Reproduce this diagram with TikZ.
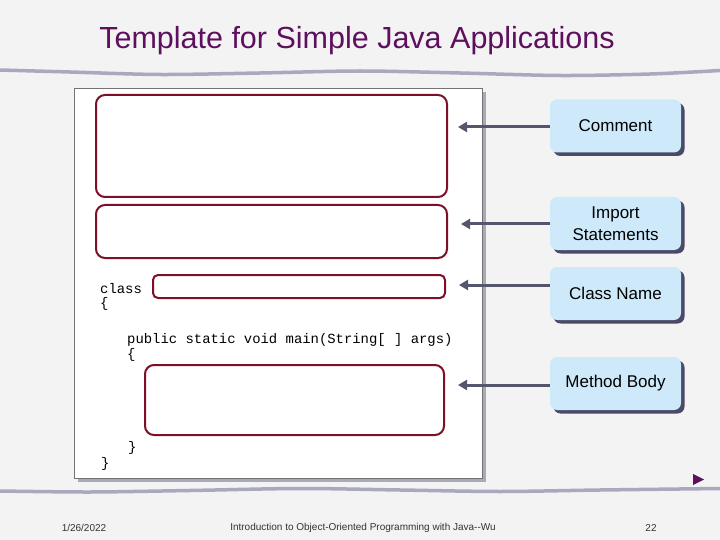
\documentclass[tikz,border=0pt]{standalone}
\usepackage{fontspec}
\setmainfont{Liberation Sans}
\setmonofont{Liberation Mono}
\usetikzlibrary{arrows.meta,shadows}
\definecolor{slidebg}{HTML}{F3F3F3}
\definecolor{titlepurple}{HTML}{5E0F5E}
\definecolor{boxred}{HTML}{7D1028}
\definecolor{notefill}{HTML}{CDE9FA}
\definecolor{noteshadow}{HTML}{4A4A68}
\definecolor{arrowgray}{HTML}{55556E}
\definecolor{wavegray}{HTML}{A8A8BE}
\definecolor{panelshadow}{HTML}{A9A9B8}
\tikzset{
  redbox/.style={draw=boxred, line width=2pt, rounded corners=9pt, inner sep=0pt},
  note/.style={fill=notefill, rounded corners=7pt, align=center, inner sep=0pt,
    minimum width=131pt, minimum height=53pt, font=\fontsize{17}{22}\selectfont,
    drop shadow={shadow xshift=3.5pt, shadow yshift=-3.5pt, fill=noteshadow, opacity=1}},
  pointer/.style={draw=arrowgray, line width=3pt, -{Triangle[length=9pt,width=10pt]}},
  code/.style={font=\fontsize{13.9}{16}\ttfamily, anchor=base west, inner sep=0pt},
  footer/.style={font=\fontsize{10}{12}\selectfont, text=black!80, inner sep=0pt},
}
\begin{document}
\begin{tikzpicture}[x=1pt, y=-1pt]
  \fill[slidebg] (0,0) rectangle (720,540);
  \useasboundingbox (0,0) rectangle (720,540);
  % title and wavy rules
  \node[text=titlepurple, font=\fontsize{30.5}{34}\selectfont] (title) at (357,41)
    {Template for Simple Java Applications};
  \draw[wavegray, line width=3.5pt, line cap=round] plot[smooth] coordinates
    {(0,70) (70,72) (160,74.5) (260,73) (360,71) (460,73) (560,75.5) (650,74) (720,70.5)};
  \draw[wavegray, line width=3.5pt, line cap=round] plot[smooth] coordinates
    {(0,491) (90,492) (190,490.5) (300,488.5) (400,490) (500,491.5) (600,490) (720,488.5)};
  % code panel
  \node[draw=black!55, fill=white, line width=0.8pt, minimum width=408pt, minimum height=390pt,
    drop shadow={shadow xshift=4pt, shadow yshift=-4pt, fill=panelshadow, opacity=1}]
    (panel) at (278,283) {};
  \node[redbox, minimum width=351pt, minimum height=102pt] (cbox) at (271.5,146) {};
  \node[redbox, minimum width=351pt, minimum height=53pt] (ibox) at (271.5,231.5) {};
  \node[redbox, rounded corners=5pt, minimum width=292pt, minimum height=23pt] (nbox) at (299,286.5) {};
  \node[redbox, minimum width=299pt, minimum height=70pt] (mbox) at (294.5,400) {};
  \node[code] (kw) at (100,293) {class};
  \node[code] (open1) at (100,307) {\{};
  \node[code] (main) at (127,343) {public static void main(String[ ] args)};
  \node[code] (open2) at (127,358) {\{};
  \node[code] (close2) at (128,451) {\}};
  \node[code] (close1) at (101,467) {\}};
  % callouts
  \node[note] (comment) at (615.5,126) {Comment};
  \node[note] (import) at (615.5,223.5) {Import\\Statements};
  \node[note] (classname) at (615.5,293.5) {Class Name};
  \node[note] (method) at (615.5,383.5) {Method Body};
  \coordinate (tip1) at (458,127);
  \coordinate (tip2) at (461,224);
  \coordinate (tip3) at (459,285);
  \coordinate (tip4) at (458,385);
  \draw[pointer] (comment.west |- tip1) -- (tip1);
  \draw[pointer] (import.west |- tip2) -- (tip2);
  \draw[pointer] (classname.west |- tip3) -- (tip3);
  \draw[pointer] (method.west |- tip4) -- (tip4);
  % footer
  \fill[titlepurple] (693,474) -- (704,479.5) -- (693,485) -- cycle;
  \node[footer] (date) at (84,528) {1/26/2022};
  \node[footer] (course) at (363,528) {Introduction to Object-Oriented Programming with Java-{}-Wu};
  \node[footer] (pageno) at (651,528) {22};
\end{tikzpicture}
\end{document}
